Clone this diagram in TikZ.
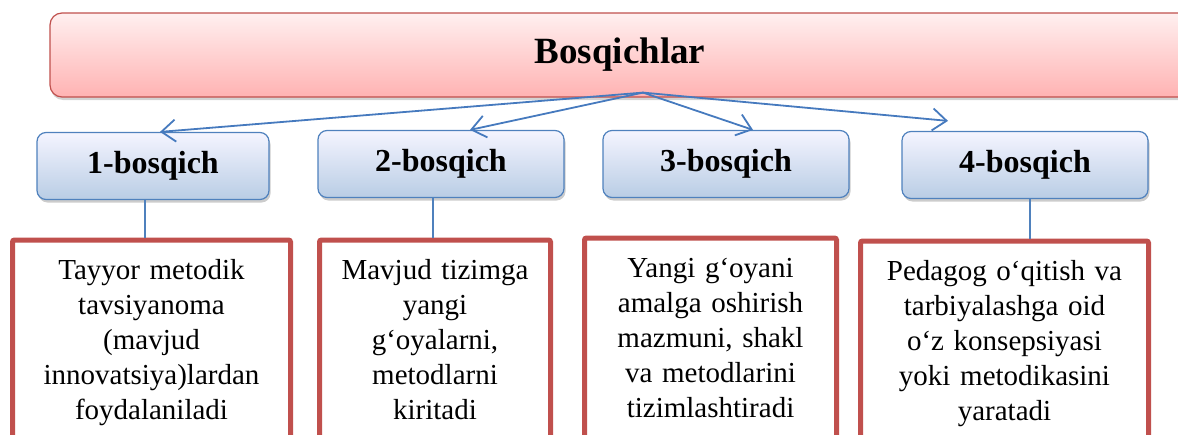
\documentclass[tikz,border=0pt]{standalone}
\usepackage{fontspec}
\setmainfont{Liberation Serif}
\usepackage{xcolor}
\usepackage{tikz}
\usetikzlibrary{arrows.meta, positioning, shadows}
\definecolor{headred}{RGB}{192,80,77}
\definecolor{stageblue}{RGB}{79,129,189}
\definecolor{arrowblue}{RGB}{70,122,190}

\begin{document}
\begin{tikzpicture}[
    x=1pt, y=-1pt,
    head/.style={draw=headred, line width=1.2pt, rounded corners=12pt, top color=red!6, bottom color=red!30, minimum width=1140pt, minimum height=84pt, font=\fontsize{37}{44}\selectfont\bfseries, drop shadow={opacity=0.35, shadow xshift=1pt, shadow yshift=-3pt}},
    stage/.style={draw=stageblue, line width=1.2pt, rounded corners=9pt, top color=blue!4, bottom color=stageblue!40, minimum width=246pt, minimum height=67pt, font=\fontsize{32}{38}\selectfont\bfseries, drop shadow={opacity=0.4, shadow xshift=1.5pt, shadow yshift=-3pt}},
    desc/.style={draw=headred, line width=5pt, fill=white, rounded corners=2pt, anchor=north, align=center, font=\fontsize{29}{35}\selectfont, inner xsep=5pt, inner ysep=18.5pt, text height=21pt, text depth=260pt},
    spread/.style={draw=arrowblue, line width=1.8pt, -{Straight Barb[length=14pt, width=22pt, line width=1.8pt]}},
    link/.style={draw=stageblue, line width=1.2pt}
]
    \useasboundingbox (0,0) rectangle (1178,434);
    \clip (0,0) rectangle (1178,434);

    \node[head] (head) at (620,55) {Bosqichlar};

    \node[stage, minimum width=232pt] (s1) at (153,166) {1-bosqich};
    \node[stage] (s2) at (441,164) {2-bosqich};
    \node[stage] (s3) at (726,164) {3-bosqich};
    \node[stage] (s4) at (1025,165) {4-bosqich};

    \coordinate (hub) at ([xshift=23pt, yshift=5pt]head.south);
    \draw[spread] (hub) -- ([xshift=7pt]s1.north);
    \draw[spread] (hub) -- ([xshift=29pt]s2.north);
    \draw[spread] (hub) -- ([xshift=27pt]s3.north);
    \draw[spread] (hub) -- ([xshift=-77pt, yshift=10pt]s4.north);

    \node[desc, text width=268pt] (d1) at (151.5,237.5) {Tayyor metodik\\tavsiyanoma\\(mavjud\\innovatsiya)lardan\\foydalaniladi};
    \node[desc, text width=221pt] (d2) at (435,237.5) {Mavjud tizimga\\yangi\\g‘oyalarni,\\metodlarni\\kiritadi};
    \node[desc, text width=242pt] (d3) at (710.5,235.5) {Yangi g‘oyani\\amalga oshirish\\mazmuni, shakl\\va metodlarini\\tizimlashtiradi};
    \node[desc, text width=278pt] (d4) at (1004.5,238.5) {Pedagog o‘qitish va\\tarbiyalashga oid\\o‘z konsepsiyasi\\yoki metodikasini\\yaratadi};

    \draw[link] ([xshift=-8pt]s1.south) -- ([xshift=-8pt]s1.south |- d1.north);
    \draw[link] ([xshift=-8pt]s2.south) -- ([xshift=-8pt]s2.south |- d2.north);
    \draw[link] ([xshift=5pt]s4.south) -- ([xshift=5pt]s4.south |- d4.north);
\end{tikzpicture}
\end{document}
